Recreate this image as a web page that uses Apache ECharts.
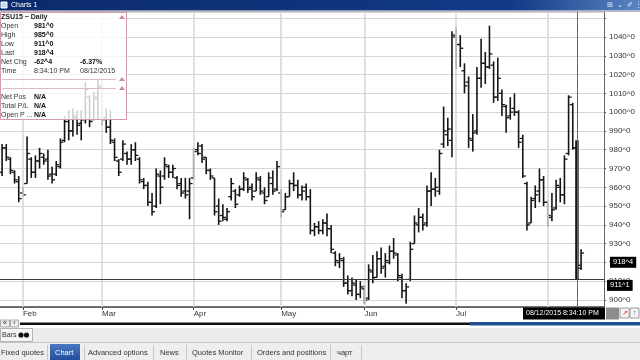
<!DOCTYPE html>
<html><head><meta charset="utf-8">
<script src="https://cdn.jsdelivr.net/npm/echarts@6.0.0/dist/echarts.min.js"></script>
<style>html,body{margin:0;padding:0;background:#fff;overflow:hidden}#c{width:640px;height:360px}</style>
</head><body><div id="c"></div>
<script>
const dates = [
'2015-01-26','2015-01-27','2015-01-28','2015-01-29','2015-01-30',
'2015-02-02','2015-02-03','2015-02-04','2015-02-05','2015-02-06','2015-02-09','2015-02-10','2015-02-11','2015-02-12','2015-02-13','2015-02-17','2015-02-18','2015-02-19','2015-02-20','2015-02-23','2015-02-24','2015-02-25','2015-02-26','2015-02-27',
'2015-03-02','2015-03-03','2015-03-04','2015-03-05','2015-03-06','2015-03-09','2015-03-10','2015-03-11','2015-03-12','2015-03-13','2015-03-16','2015-03-17','2015-03-18','2015-03-19','2015-03-20','2015-03-23','2015-03-24','2015-03-25','2015-03-26','2015-03-27','2015-03-30','2015-03-31',
'2015-04-01','2015-04-02','2015-04-06','2015-04-07','2015-04-08','2015-04-09','2015-04-10','2015-04-13','2015-04-14','2015-04-15','2015-04-16','2015-04-17','2015-04-20','2015-04-21','2015-04-22','2015-04-23','2015-04-24','2015-04-27','2015-04-28','2015-04-29','2015-04-30',
'2015-05-01','2015-05-04','2015-05-05','2015-05-06','2015-05-07','2015-05-08','2015-05-11','2015-05-12','2015-05-13','2015-05-14','2015-05-15','2015-05-18','2015-05-19','2015-05-20','2015-05-21','2015-05-22','2015-05-26','2015-05-27','2015-05-28','2015-05-29',
'2015-06-01','2015-06-02','2015-06-03','2015-06-04','2015-06-05','2015-06-08','2015-06-09','2015-06-10','2015-06-11','2015-06-12','2015-06-15','2015-06-16','2015-06-17','2015-06-18','2015-06-19','2015-06-22','2015-06-23','2015-06-24','2015-06-25','2015-06-26','2015-06-29','2015-06-30',
'2015-07-01','2015-07-02','2015-07-06','2015-07-07','2015-07-08','2015-07-09','2015-07-10','2015-07-13','2015-07-14','2015-07-15','2015-07-16','2015-07-17','2015-07-20','2015-07-21','2015-07-22','2015-07-23','2015-07-24','2015-07-27','2015-07-28','2015-07-29','2015-07-30','2015-07-31',
'2015-08-03','2015-08-04','2015-08-05','2015-08-06','2015-08-07','2015-08-10','2015-08-11','2015-08-12','2015-08-13'
];
const opens = [
968,981,975,968,963,
957,962,975,968,974,976,975,967,967,971,985,995,990,997,994,996,1008,996,1007,
1013,997,992,984,974,975,978,975,980,975,963,961,952,950,966,966,971,968,965,962,958,958,
965,980,982,976,969,965,950,945,943,955,958,956,959,964,960,958,964,957,955,962,959,
957,948,955,962,961,956,960,955,937,939,937,941,938,925,920,921,909,905,908,903,
906,901,915,912,922,918,920,926,924,912,905,911,930,940,944,941,958,959,958,983,988,985,
1040,1036,1022,1016,985,990,1018,1026,1024,1025,1008,1010,1003,998,1002,1000,986,962,941,954,958,964,
952,944,949,960,956,978,1004,981,917
];
const highs = [
983,983,976,969,966,
960,987,976,977,981,978,980,971,974,986,998,1001,1002,1001,1001,1016,1009,1011,1017,
1017,1002,1001,986,975,985,979,983,984,976,965,963,957,970,969,976,972,972,966,965,965,965,
981,984,983,976,970,965,954,951,949,965,959,961,968,965,962,968,966,960,968,969,974,
959,957,964,968,964,961,962,959,941,942,943,946,940,926,925,923,913,912,911,910,
908,919,924,926,928,925,929,933,925,914,909,931,945,949,946,961,968,965,980,1003,997,1043,
1045,1041,1026,1019,999,1024,1039,1032,1046,1027,1029,1012,1004,1008,1010,1001,988,963,955,961,970,966,
953,957,964,965,977,1009,1005,985,927
];
const lows = [
966,974,967,962,952,
955,962,965,965,970,972,964,962,966,970,984,985,987,988,985,994,992,996,996,
993,989,983,974,966,974,972,972,974,962,959,950,945,949,951,964,965,965,959,955,954,943,
964,977,973,967,964,945,940,942,942,953,949,955,958,957,953,958,956,951,955,956,958,
944,948,955,958,954,953,953,935,934,935,935,934,925,918,917,907,903,902,900,901,
898,900,909,912,914,912,919,922,910,901,898,910,930,936,937,939,950,955,956,981,982,976,
1023,1024,1010,981,979,988,1013,1015,1023,1005,1006,998,989,996,998,981,965,937,941,949,952,950,
939,942,948,952,951,977,980,911,916
];
const closes = [
981,976,969,964,954,
956,978,968,974,978,974,966,964,972,984,995,990,998,993,996,1012,995,1008,1014,
996,992,985,976,968,983,975,980,977,964,961,952,947,967,960,972,968,970,961,957,956,962,
979,978,975,969,966,947,942,944,947,962,951,959,965,959,955,965,958,953,965,958,971,
947,955,962,961,956,958,955,937,939,937,941,938,927,921,922,909,905,909,903,907,
900,916,912,922,917,921,926,925,913,905,907,927,941,944,940,958,959,960,978,990,991,1041,
1036,1034,1014,986,989,1018,1026,1024,1031,1008,1018,1004,997,1000,1000,984,966,940,953,956,964,952,
945,948,961,956,975,1008,981,918.5,925
];
const padSlots = ['p1','p2','p3','p4','p5'];
const monthNames = ['Jan','Feb','Mar','Apr','May','Jun','Jul','Aug','Sep','Oct','Nov','Dec'];
const yMin = 896.3, yMax = 1053.3;
const yLabelMax = 1040;
const cursorDate = '2015-08-12';
const lowLine = 911, lastPrice = 918.5;

const cats = dates.concat(padSlots);
const monthStarts = [];
dates.forEach((d, i) => { if (i > 0 && d.slice(5,7) !== dates[i-1].slice(5,7)) monthStarts.push(i); });
const isMonth = (idx) => monthStarts.indexOf(idx) >= 0;
const cursorIdx = dates.indexOf(cursorDate);
const ohlc = dates.map((d, i) => [i, opens[i], highs[i], lows[i], closes[i]]);

const FONT = '"Liberation Sans", Arial, sans-serif';
function T(x, y, text, o) {
  o = o || {};
  return {type:'text', x:x, y:y, z:o.z||110, silent:true, style:{text:text, fill:o.fill||'#222',
    font:(o.bold?'bold ':'') + (o.size||7) + 'px ' + FONT, verticalAlign:'middle', align:o.align||'left'}};
}
function R(x, y, w, h, fill, stroke, z) {
  return {type:'rect', z:z||105, silent:true, shape:{x:x, y:y, width:w, height:h}, style:{fill:fill, stroke:stroke||null, lineWidth:1}};
}
function L(x1, y1, x2, y2, color, w, z) {
  return {type:'line', z:z||106, silent:true, shape:{x1:x1,y1:y1,x2:x2,y2:y2}, style:{stroke:color, lineWidth:w||1}};
}
function TRI(x, y, color) {
  return {type:'polygon', z:107, silent:true, shape:{points:[[x-3,y+2],[x+3,y+2],[x,y-2]]}, style:{fill:color}};
}

const chrome = [];
// title bar
chrome.push({type:'rect', z:105, silent:true, shape:{x:0,y:0,width:640,height:10.5},
  style:{fill:new echarts.graphic.LinearGradient(0,0,1,0,[{offset:0,color:'#0b2a6c'},{offset:0.8,color:'#123a86'},{offset:1,color:'#5b84c2'}])}});
chrome.push(R(1,2,6,6,'#c9d6ee','#fff',106));
chrome.push(T(11,5.5,'Charts 1',{fill:'#fff',size:7}));
chrome.push(T(607,5.5,'\u229E  \u2304  \u2710 \u22EE',{fill:'#e8eefa',size:7}));
chrome.push(L(0,11.5,640,11.5,'#b8b8b8',1,104));
// info box
chrome.push({type:'rect', z:105, silent:true, shape:{x:0.5,y:12.5,width:126,height:107},
  style:{fill:'rgba(255,255,255,0.8)', stroke:'#d29aab', lineWidth:1}});
chrome.push(T(1,17,'ZSU15 ~ Daily',{bold:true}));
chrome.push(TRI(122,17,'#c98a9c'));
const rows = [['Open','981^0',''],['High','985^0',''],['Low','911^0',''],['Last','918^4',''],['Net Chg','-62^4','-6.37%'],['Time','8:34:10 PM','08/12/2015']];
rows.forEach((r, k) => {
  const y = 26 + k * 9;
  chrome.push(T(1, y, r[0], {fill:'#333'}));
  chrome.push(T(34, y, r[1], {bold: k < 5, fill: k < 5 ? '#111' : '#333'}));
  if (r[2]) chrome.push(T(80, y, r[2], {bold: k < 5, fill: k < 5 ? '#111' : '#333'}));
});
chrome.push(L(2,79.5,116,79.5,'#e4b9c5',1,106)); chrome.push(TRI(122,79,'#c98a9c'));
chrome.push(L(2,88.5,116,88.5,'#e4b9c5',1,106)); chrome.push(TRI(122,88,'#c98a9c'));
[['Net Pos','N/A'],['Total P/L','N/A'],['Open P ...','N/A']].forEach((r, k) => {
  const y = 97 + k * 9;
  chrome.push(T(1, y, r[0], {fill:'#333'}));
  chrome.push(T(34, y, r[1], {bold:true, fill:'#111'}));
});
// bottom date box and buttons
chrome.push(R(523,307.5,82,12,'#000',null,105));
chrome.push(T(526,313.5,'08/12/2015 8:34:10 PM',{fill:'#fff',size:7}));
chrome.push(R(606,307.5,13,12,'#8c8c8c',null,105));
chrome.push(R(620,308,9,10,'#f4f4f4','#9a9a9a',105));
chrome.push(T(624.5,313,'\u2197',{fill:'#c33',size:7,align:'center'}));
chrome.push(R(630,308,9,10,'#f4f4f4','#9a9a9a',105));
chrome.push(T(634.5,313,'\u2191',{fill:'#2a4f9a',size:7,align:'center'}));
// scroll bar
chrome.push(R(0,319.5,640,8.5,'#ffffff',null,104));
chrome.push(R(0.5,320,9,7,'#eeeeee','#aaaaaa',105));
chrome.push(T(5,323.5,'\u00AB',{size:7,align:'center'}));
chrome.push(R(10.5,320,8,7,'#eeeeee','#aaaaaa',105));
chrome.push(T(14.5,323.5,'\u2039',{size:7,align:'center'}));
chrome.push(R(20,322.5,450,2.5,'#111',null,105));
chrome.push(R(470,322,170,3.5,'#1f4f95',null,105));
// Bars strip
chrome.push(R(0,328,640,14,'#ececec',null,104));
chrome.push(R(0.5,328.5,32,13,'#f6f6f6','#b4b4b4',105));
chrome.push(T(2,335.5,'Bars',{fill:'#333'}));
chrome.push({type:'circle', z:106, silent:true, shape:{cx:21,cy:335,r:2.6}, style:{fill:'#111'}});
chrome.push({type:'circle', z:106, silent:true, shape:{cx:26.5,cy:335,r:2.6}, style:{fill:'#111'}});
// tab bar
chrome.push(R(0,342,640,18,'#eeeeee',null,104));
chrome.push(L(0,342.5,640,342.5,'#c4c4c4',1,105));
chrome.push({type:'rect', z:105, silent:true, shape:{x:50,y:344,width:30,height:16},
  style:{fill:new echarts.graphic.LinearGradient(0,0,0,1,[{offset:0,color:'#4a78c0'},{offset:1,color:'#234f9c'}])}});
const tabs = [['Fixed quotes',1],['Chart',55],['Advanced options',88],['News',160],['Quotes Monitor',192],['Orders and positions',257],['\u0447\u0430\u0440\u0442',337]];
tabs.forEach(t => chrome.push(T(t[1], 353, t[0], {size:7.5, fill: t[0]==='Chart' ? '#fff' : '#333'})));
[47,84,153,186,251,330,361].forEach(x => chrome.push(L(x+0.5,345,x+0.5,360,'#c8c8c8',1,106)));

const boxLabel = (text, dist, dy) => ({show: true, position: 'end', distance: dist, formatter: text, backgroundColor: '#000', color: '#fff',
  fontSize: 7.5, fontFamily: 'Liberation Sans', padding: [2,3,1,3], offset: [0, dy]});

const option = {
  animation: false,
  backgroundColor: '#ffffff',
  grid: {left: 0, right: 36, top: 12, bottom: 53},
  xAxis: {
    type: 'category', data: cats, boundaryGap: true,
    axisLine: {show: true, lineStyle: {color: '#444', width: 1.5}},
    axisTick: {show: true, alignWithLabel: true, interval: isMonth, length: 3, lineStyle: {color: '#444'}},
    axisLabel: {interval: isMonth, align: 'left', margin: 3, color: '#333', fontSize: 8, fontFamily: 'Liberation Sans',
      formatter: v => (v.length === 10 ? monthNames[+v.slice(5,7) - 1] : '')},
    splitLine: {show: false}
  },
  yAxis: {
    type: 'value', position: 'right', min: yMin, max: yMax, minInterval: 10, maxInterval: 10, splitNumber: 16, scale: true,
    axisLine: {show: true, lineStyle: {color: '#666', width: 1}},
    axisTick: {show: true, length: 2, lineStyle: {color: '#555'}},
    axisLabel: {showMinLabel: false, showMaxLabel: false, color: '#333', fontSize: 8, fontFamily: 'Liberation Sans', margin: 5, padding: [0,0,4,0],
      formatter: v => (Math.abs(v % 10) < 1e-6 && v <= yLabelMax ? v + '^0' : '')},
    splitLine: {show: true, lineStyle: {color: '#d6d6d6', width: 1}}
  },
  series: [
    {
      type: 'line', data: [], z: 1, silent: true,
      markLine: {
        silent: true, symbol: ['none','none'], animation: false,
        data: monthStarts.map(i => ({xAxis: dates[i], lineStyle: {color: '#d9d9d9', width: 1.6, type: 'solid'}, label: {show: false}}))
          .concat([
            {xAxis: cursorDate, lineStyle: {color: '#666', width: 1, type: 'solid'}, label: {show: false}},
            {yAxis: lowLine, lineStyle: {color: '#3a3a3a', width: 1, type: 'solid'}, label: boxLabel('911^1', 3, 6)}
          ])
      }
    },
    {
      type: 'line', data: [], z: 4, silent: true,
      markLine: {
        silent: true, symbol: ['none','none'], animation: false,
        data: [{yAxis: lastPrice, lineStyle: {color: 'rgba(0,0,0,0)', width: 1, type: 'solid'}, label: boxLabel('918^4', 6, -3)}]
      }
    },
    {
      type: 'custom', z: 3, data: ohlc, encode: {x: 0, y: [1,2,3,4]}, silent: true,
      renderItem: function (params, api) {
        const x = api.value(0);
        const o = api.coord([x, api.value(1)]);
        const h = api.coord([x, api.value(2)]);
        const l = api.coord([x, api.value(3)]);
        const c = api.coord([x, api.value(4)]);
        const thick = params.dataIndex === cursorIdx;
        const lw = thick ? 3.5 : 1.6;
        const tk = 2.2;
        const col = '#151515';
        return {type: 'group', children: [
          {type: 'line', shape: {x1: h[0], y1: h[1], x2: l[0], y2: l[1]}, style: {stroke: col, lineWidth: lw}},
          {type: 'line', shape: {x1: o[0] - lw/2 - tk, y1: o[1], x2: o[0], y2: o[1]}, style: {stroke: col, lineWidth: 1.3}},
          {type: 'line', shape: {x1: c[0], y1: c[1], x2: c[0] + lw/2 + tk, y2: c[1]}, style: {stroke: col, lineWidth: 1.3}}
        ]};
      }
    }
  ],
  graphic: {elements: chrome}
};
const chart = echarts.init(document.getElementById('c'), null, {renderer: 'canvas'});
chart.setOption(option);
</script>
</body></html>
